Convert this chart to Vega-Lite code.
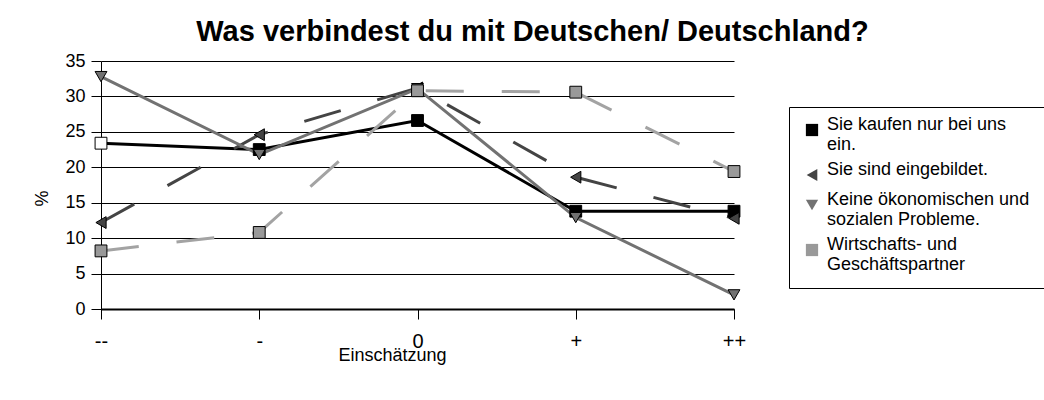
{
  "$schema": "https://vega.github.io/schema/vega-lite/v6.json",
  "autosize": {"type": "none"},
  "padding": {"left": 101, "top": 61, "right": 310, "bottom": 91},
  "width": 633,
  "height": 248,
  "background": "white",
  "title": {
    "text": "Was verbindest du mit Deutschen/ Deutschland?",
    "font": "Liberation Sans",
    "fontSize": 29,
    "fontWeight": "bold",
    "color": "black",
    "anchor": "middle",
    "frame": "group",
    "dx": 115,
    "dy": 37,
    "baseline": "alphabetic",
    "offset": 19
  },
  "config": {
    "font": "Liberation Sans",
    "view": {"stroke": null},
    "axis": {"labelColor": "black", "titleColor": "black", "labelFont": "Liberation Sans", "titleFont": "Liberation Sans"}
  },
  "data": {
    "values": [
      {"cat": "--", "series": "Sie kaufen nur bei uns ein.", "value": 23.4},
      {"cat": "-", "series": "Sie kaufen nur bei uns ein.", "value": 22.5},
      {"cat": "0", "series": "Sie kaufen nur bei uns ein.", "value": 26.6},
      {"cat": "+", "series": "Sie kaufen nur bei uns ein.", "value": 13.8},
      {"cat": "++", "series": "Sie kaufen nur bei uns ein.", "value": 13.8},
      {"cat": "--", "series": "Sie sind eingebildet.", "value": 12.2},
      {"cat": "-", "series": "Sie sind eingebildet.", "value": 24.6},
      {"cat": "0", "series": "Sie sind eingebildet.", "value": 31.2},
      {"cat": "+", "series": "Sie sind eingebildet.", "value": 18.6},
      {"cat": "++", "series": "Sie sind eingebildet.", "value": 12.8},
      {"cat": "--", "series": "Keine ökonomischen und sozialen Probleme.", "value": 32.8},
      {"cat": "-", "series": "Keine ökonomischen und sozialen Probleme.", "value": 21.8},
      {"cat": "0", "series": "Keine ökonomischen und sozialen Probleme.", "value": 31.1},
      {"cat": "+", "series": "Keine ökonomischen und sozialen Probleme.", "value": 12.9},
      {"cat": "++", "series": "Keine ökonomischen und sozialen Probleme.", "value": 2.0},
      {"cat": "--", "series": "Wirtschafts- und Geschäftspartner", "value": 8.2},
      {"cat": "-", "series": "Wirtschafts- und Geschäftspartner", "value": 10.8},
      {"cat": "0", "series": "Wirtschafts- und Geschäftspartner", "value": 30.8},
      {"cat": "+", "series": "Wirtschafts- und Geschäftspartner", "value": 30.6},
      {"cat": "++", "series": "Wirtschafts- und Geschäftspartner", "value": 19.4}
    ]
  },
  "encoding": {
    "x": {
      "field": "cat",
      "type": "ordinal",
      "sort": ["--", "-", "0", "+", "++"],
      "scale": {"type": "point", "padding": 0},
      "axis": {
        "labelAngle": 0,
        "labelFontSize": 20,
        "tickSize": 10,
        "tickColor": "black",
        "domainColor": "black",
        "domainWidth": 2,
        "labelPadding": 12,
        "grid": false,
        "title": "Einschätzung",
        "titleFontSize": 18,
        "titleFontWeight": "normal",
        "titleX": 291,
        "titleY": 46,
        "titleBaseline": "middle"
      }
    },
    "y": {
      "field": "value",
      "type": "quantitative",
      "scale": {"domain": [0, 35], "nice": false},
      "axis": {
        "values": [0, 5, 10, 15, 20, 25, 30, 35],
        "grid": true,
        "gridColor": "black",
        "gridWidth": 1,
        "gridOpacity": 1,
        "domainColor": "black",
        "tickColor": "black",
        "tickSize": 10,
        "labelFontSize": 18,
        "labelPadding": 6,
        "title": "%",
        "titleFontSize": 18,
        "titleFontWeight": "normal",
        "titleX": -59,
        "titleY": 137,
        "titleAngle": 270,
        "titleAlign": "center",
        "titleBaseline": "middle"
      }
    }
  },
  "layer": [
    {
      "transform": [{"filter": "datum.series == 'Sie kaufen nur bei uns ein.'"}],
      "mark": {"type": "line", "strokeWidth": 3, "color": "#000000"},
      "encoding": {}
    },
    {
      "transform": [{"filter": "datum.series == 'Sie sind eingebildet.'"}],
      "mark": {"type": "line", "strokeWidth": 3, "color": "#444444", "strokeDash": [38, 38]},
      "encoding": {}
    },
    {
      "transform": [{"filter": "datum.series == 'Keine ökonomischen und sozialen Probleme.'"}],
      "mark": {"type": "line", "strokeWidth": 3, "color": "#727272"},
      "encoding": {}
    },
    {
      "transform": [{"filter": "datum.series == 'Wirtschafts- und Geschäftspartner'"}],
      "mark": {"type": "line", "strokeWidth": 3, "color": "#a3a3a3", "strokeDash": [38, 38]},
      "encoding": {}
    },
    {
      "mark": {"type": "point", "filled": true, "size": 140, "stroke": "black", "strokeWidth": 1, "opacity": 1},
      "encoding": {
        "shape": {
          "field": "series",
          "type": "nominal",
          "scale": {
            "domain": ["Sie kaufen nur bei uns ein.", "Sie sind eingebildet.", "Keine ökonomischen und sozialen Probleme.", "Wirtschafts- und Geschäftspartner"],
            "range": ["square", "triangle-left", "triangle-down", "square"]
          },
          "legend": {
            "title": null,
            "orient": "none",
            "legendX": 688,
            "legendY": 46,
            "padding": 14,
            "strokeColor": "black",
            "fillColor": "white",
            "labelFontSize": 18,
            "labelColor": "black",
            "labelLimit": 400,
            "labelOffset": 6,
            "labelBaseline": "alphabetic",
            "rowPadding": 7,
            "symbolSize": 150,
            "symbolStrokeColor": "black",
            "symbolStrokeWidth": 1,
            "labelExpr": "datum.label == 'Sie kaufen nur bei uns ein.' ? ['Sie kaufen nur bei uns', 'ein.'] : datum.label == 'Keine ökonomischen und sozialen Probleme.' ? ['Keine ökonomischen und', 'sozialen Probleme.'] : datum.label == 'Wirtschafts- und Geschäftspartner' ? ['Wirtschafts- und', 'Geschäftspartner'] : datum.label"
          }
        },
        "fill": {
          "condition": {"test": "datum.series == 'Sie kaufen nur bei uns ein.' && datum.cat == '--'", "value": "white"},
          "field": "series",
          "type": "nominal",
          "scale": {
            "domain": ["Sie kaufen nur bei uns ein.", "Sie sind eingebildet.", "Keine ökonomischen und sozialen Probleme.", "Wirtschafts- und Geschäftspartner"],
            "range": ["#000000", "#444444", "#727272", "#999999"]
          },
          "legend": {
            "title": null,
            "orient": "none",
            "legendX": 688,
            "legendY": 46,
            "padding": 14,
            "strokeColor": "black",
            "fillColor": "white",
            "labelFontSize": 18,
            "labelColor": "black",
            "labelLimit": 400,
            "labelOffset": 6,
            "labelBaseline": "alphabetic",
            "rowPadding": 7,
            "symbolSize": 150,
            "symbolStrokeColor": "black",
            "symbolStrokeWidth": 1,
            "labelExpr": "datum.label == 'Sie kaufen nur bei uns ein.' ? ['Sie kaufen nur bei uns', 'ein.'] : datum.label == 'Keine ökonomischen und sozialen Probleme.' ? ['Keine ökonomischen und', 'sozialen Probleme.'] : datum.label == 'Wirtschafts- und Geschäftspartner' ? ['Wirtschafts- und', 'Geschäftspartner'] : datum.label"
          }
        }
      }
    }
  ]
}
